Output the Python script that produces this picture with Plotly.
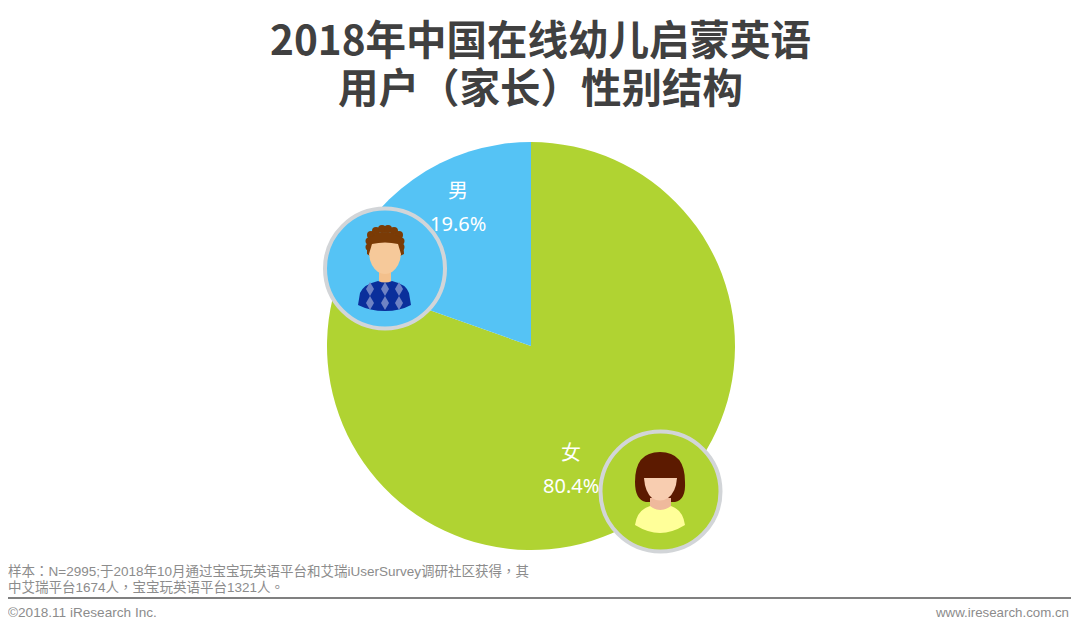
"""2018年中国在线幼儿启蒙英语用户（家长）性别结构"""
import plotly.graph_objects as go

generos = ["女", "男"]
percentuais = [80.4, 19.6]
cores = ["#b0d332", "#55c3f5"]
titulo = ["2018年中国在线幼儿启蒙英语", "用户（家长）性别结构"]
nota = ["样本：N=2995;于2018年10月通过宝宝玩英语平台和艾瑞iUserSurvey调研社区获得，其",
        "中艾瑞平台1674人，宝宝玩英语平台1321人。"]
rodape_esq = "©2018.11 iResearch Inc."
rodape_dir = "www.iresearch.com.cn"

# a pagina tem margem de 8px no body; tudo abaixo fica em pixels da janela
W, H = 1080, 628
M = 8
CJK = "Noto Sans CJK SC"
NOTA_FONT = "Liberation Sans, Noto Sans CJK TC"


def circulo(cx, cy, r, **kw):
    return dict(type="circle", xref="x", yref="y", layer="above",
                x0=cx - r, x1=cx + r, y0=cy - r, y1=cy + r, **kw)


def caminho(path, cor):
    return dict(type="path", xref="x", yref="y", layer="above", path=path,
                fillcolor=cor, line=dict(width=0))


def texto(x, y, s, size, cor, anchor="center", fam=CJK, xshift=0):
    return dict(x=x, y=y, xref="x", yref="y", text=s, showarrow=False,
                xanchor=anchor, yanchor="middle", xshift=xshift,
                font=dict(size=size, color=cor, family=fam))


PW, PH = W - 2 * M, H - 2 * M
fig = go.Figure()
fig.add_trace(go.Pie(
    labels=generos, values=percentuais,
    sort=False, direction="clockwise", rotation=0,
    marker=dict(colors=cores, line=dict(width=0)),
    textinfo="none", showlegend=False,
    domain=dict(x=[(327 - M) / PW, (735 - M) / PW],
                y=[(H - M - 550) / PH, (H - M - 142) / PH]),
))

# avatares e linha do rodape
CABELO = "#7a3b06"
shapes = [circulo(385, 268.5, 60, fillcolor=cores[1], line=dict(color="#d2d5d8", width=4))]
# rapaz
for cx, cy, r in [(369, 247, 3.5), (369, 241, 3.5), (371, 235, 4), (376, 231, 4),
                  (382, 229, 4), (388, 229, 4), (394, 231, 4), (399, 235, 4),
                  (401, 241, 3.5), (401, 247, 3.5)]:
    shapes.append(circulo(cx, cy, r, fillcolor=CABELO, line=dict(width=0)))
shapes += [
    caminho("M367,240 Q385,224 403,240 L404,254 L400,256 L370,256 L367,254 Z", CABELO),
    caminho("M379,268 L391,268 L391,283 L379,283 Z", "#f3c08c"),
    caminho("M372,244 Q385,241 398,244 L401,254 Q400,266 392,272 Q385,276 378,272 "
            "Q370,266 369,254 Z", "#f6c99a"),
    caminho("M378,281 Q385,284 392,281 Q406,284 409,293 L411,305 Q400,311 385,311 "
            "Q370,311 358,305 L360,293 Q364,284 378,281 Z", "#0a2f9b"),
]
for dx in (370, 385, 399):
    for dy in (289, 303):
        shapes.append(caminho(f"M{dx},{dy - 7} L{dx + 4},{dy} L{dx},{dy + 7} L{dx - 4},{dy} Z",
                              "#6f83c4"))
shapes += [
    circulo(660.5, 491.5, 60, fillcolor=cores[0], line=dict(color="#d2d5d8", width=4)),
    # moca
    caminho("M660,452 Q685,452 685,482 Q686,500 675,502 L646,502 Q635,500 635,482 "
            "Q635,452 660,452 Z", "#5c1a00"),
    caminho("M650,498 L671,498 L671,510 Q660,516 650,510 Z", "#efb99c"),
    caminho("M644,478 L677,478 Q676,492 668,498 Q660,503 652,498 Q645,492 644,478 Z", "#f8cdb0"),
    caminho("M650,506 Q660,514 671,506 Q683,510 685,525 Q672,533 660,533 Q648,533 635,525 "
            "Q637,510 650,506 Z", "#ffff99"),
    dict(type="line", xref="x", yref="y", x0=8, x1=1071, y0=598, y1=598,
         line=dict(color="#808080", width=2)),
]

annotations = [
    texto(540, 37, f"<b>{titulo[0]}</b>", 40.5, "#404040"),
    texto(540, 85, f"<b>{titulo[1]}</b>", 40.5, "#404040"),
    texto(458, 189, generos[1], 20, "#ffffff"),
    texto(458, 223, f"{percentuais[1]}%", 20, "#ffffff", fam="Noto Sans"),
    texto(571, 451, generos[0], 20, "#ffffff"),
    texto(571, 485, f"{percentuais[0]}%", 20, "#ffffff", fam="Noto Sans"),
    texto(8, 571, nota[0], 13.5, "#8c8c8c", "left", NOTA_FONT, xshift=-2),
    texto(8, 587, nota[1], 13.5, "#8c8c8c", "left", NOTA_FONT, xshift=-2),
    texto(8, 612, rodape_esq, 13.6, "#8c8c8c", "left", "Liberation Sans", xshift=-2),
    texto(1071, 612, rodape_dir, 13.3, "#8c8c8c", "right", "Liberation Sans"),
]

fig.update_layout(
    width=PW, height=PH,
    paper_bgcolor="#ffffff",
    plot_bgcolor="rgba(0,0,0,0)",
    margin=dict(l=0, r=0, t=0, b=0),
    xaxis=dict(range=[M, W - M], visible=False, fixedrange=True),
    yaxis=dict(range=[H - M, M], visible=False, fixedrange=True),
    shapes=shapes,
    annotations=annotations,
)
fig.write_html("out.html")
